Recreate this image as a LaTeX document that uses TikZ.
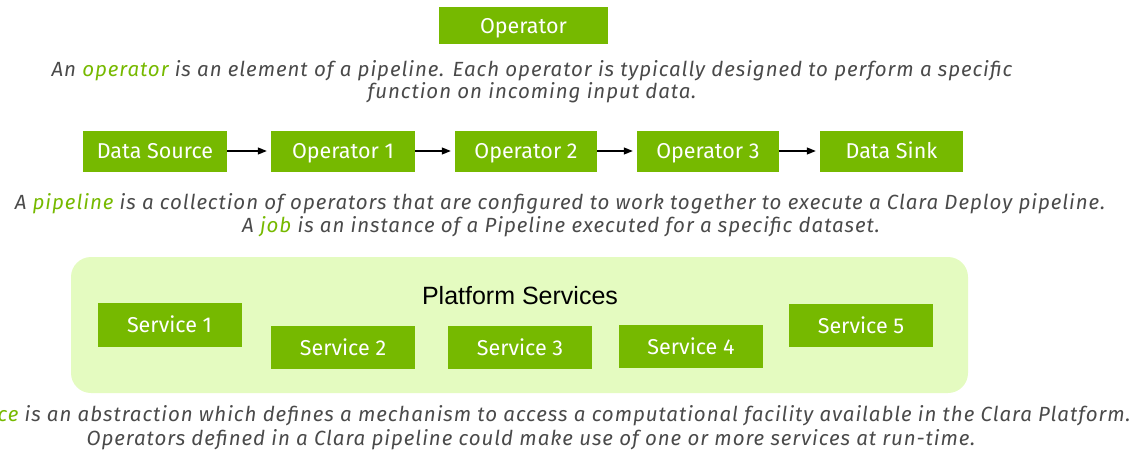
\documentclass[tikz,border=0pt]{standalone}
\usepackage{fontspec}
\setmainfont{Fira Sans}
\newfontfamily\descfont[LetterSpace=4.6]{Fira Sans}
\newfontfamily\arialfont{Liberation Sans}
\usetikzlibrary{arrows.meta}
\definecolor{nvgreen}{HTML}{76B900}
\definecolor{lightg}{HTML}{E4FBC0}
\definecolor{txtgray}{HTML}{4A4A4A}
\newcommand{\hlw}[1]{\textcolor{nvgreen}{#1}}
\begin{document}
\begin{tikzpicture}[x=1pt,y=-1pt,
  gbox/.style={fill=nvgreen, text=white, inner sep=0pt, minimum width=144pt, minimum height=41pt, font=\fontsize{21.5}{24}\selectfont, text height=15pt, text depth=0pt},
  desc/.style={text=txtgray, font=\descfont\fontsize{20.5}{23}\selectfont\itshape, inner sep=0pt, anchor=base},
  flow/.style={-{Triangle[length=9pt,width=7pt]}, line width=1.2pt, black, shorten >=4pt}]
\useasboundingbox (0,0) rectangle (1136,455);
\clip (0,0) rectangle (1136,455);
% top
\node[gbox, minimum width=169pt, minimum height=37pt] (op) at (523.5,25.5) {Operator};
\node[desc] (opdesc1) at (532,76) {An \hlw{operator} is an element of a pipeline. Each operator is typically designed to perform a specific};
\node[desc] (opdesc2) at (532,98) {function on incoming input data.};
% pipeline
\node[gbox] (ds) at (155,151) {Data Source};
\node[gbox] (op1) at (343,151) {Operator 1};
\node[gbox, minimum width=142pt] (op2) at (526,151) {Operator 2};
\node[gbox, minimum width=142pt] (op3) at (708,151) {Operator 3};
\node[gbox, minimum width=143pt] (sink) at (891.5,151) {Data Sink};
\draw[flow] (ds) -- (op1);
\draw[flow] (op1) -- (op2);
\draw[flow] (op2) -- (op3);
\draw[flow] (op3) -- (sink);
\node[desc] (pdesc1) at (560,209) {A \hlw{pipeline} is a collection of operators that are configured to work together to execute a Clara Deploy pipeline.};
\node[desc] (pdesc2) at (561,232) {A \hlw{job} is an instance of a Pipeline executed for a specific dataset.};
% platform
\node[fill=lightg, rounded corners=20pt, minimum width=897pt, minimum height=136pt, inner sep=0pt] (plat) at (519.5,325) {};
\node[font=\arialfont\fontsize{25}{29}\selectfont, text=black, inner sep=0pt] (ptitle) at (520,296) {Platform Services};
\node[gbox, minimum height=44pt] (s1) at (169.5,325) {Service 1};
\node[gbox, minimum height=43pt] (s2) at (343,347.5) {Service 2};
\node[gbox, minimum height=43pt] (s3) at (520,347.5) {Service 3};
\node[gbox, minimum height=43pt] (s4) at (691,346.5) {Service 4};
\node[gbox, minimum height=43pt] (s5) at (861,325.5) {Service 5};
\node[desc] (sdesc1) at (531,421) {A \hlw{service} is an abstraction which defines a mechanism to access a computational facility available in the Clara Platform.};
\node[desc] (sdesc2) at (531,445) {Operators defined in a Clara pipeline could make use of one or more services at run-time.};
\end{tikzpicture}
\end{document}
